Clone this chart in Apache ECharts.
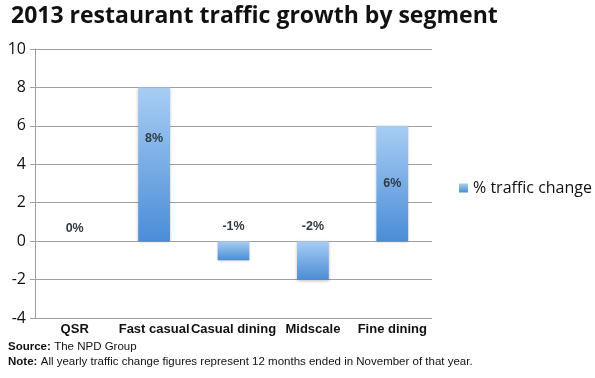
<!DOCTYPE html>
<html><head><meta charset="utf-8">
<script src="https://cdn.jsdelivr.net/npm/echarts@6/dist/echarts.min.js"></script>
<style>html,body{margin:0;padding:0;background:#fff}#c{width:595px;height:378px}</style>
</head><body><div id="c"></div>
<script>
const categories = ["QSR", "Fast casual", "Casual dining", "Midscale", "Fine dining"];
const trafficChange = [0, 8, -1, -2, 6];
const valueLabels = ["0%", "8%", "-1%", "-2%", "6%"];
const seriesName = "% traffic change";
const titleText = "2013 restaurant traffic growth by segment";
const yTicks = { min: -4, max: 10, interval: 2 };

const labelPlacement = [
  { position: 'top', distance: 6 },
  { position: 'insideTop', distance: 45 },
  { position: 'top', distance: 8 },
  { position: 'top', distance: 8 },
  { position: 'inside' }
];

const chart = echarts.init(document.getElementById('c'), null, { renderer: 'canvas' });
const grad = new echarts.graphic.LinearGradient(0, 0, 0, 1, [
  { offset: 0, color: '#a8cdf4' },
  { offset: 1, color: '#4a8dd7' }
]);
const footRich = {
  b: { fontFamily: 'Arial, Liberation Sans', fontWeight: 'bold', fontSize: 11.5, fill: '#111' },
  n: { fontFamily: 'Arial, Liberation Sans', fontSize: 11.5, fill: '#111' }
};
chart.setOption({
  animation: false,
  backgroundColor: '#fff',
  title: {
    text: titleText, left: 6, top: 0,
    textStyle: { fontFamily: 'Open Sans', fontWeight: 'bold', fontSize: 23, color: '#111' }
  },
  legend: {
    data: [seriesName], orient: 'vertical', left: 454, top: 175,
    itemWidth: 9, itemHeight: 9, itemGap: 4,
    icon: 'rect',
    textStyle: { fontFamily: 'Open Sans', fontSize: 16, color: '#111' }
  },
  grid: { left: 35, right: 163, top: 49, bottom: 60, containLabel: false },
  xAxis: {
    type: 'category', data: categories,
    axisLine: { onZero: false, show: false },
    axisTick: { show: false },
    axisLabel: { interval: 0, fontFamily: 'Arial, Liberation Sans', fontWeight: 'bold', fontSize: 13, color: '#111', margin: 5 }
  },
  yAxis: {
    type: 'value', min: yTicks.min, max: yTicks.max, interval: yTicks.interval,
    axisLine: { show: true, lineStyle: { color: '#a0a0a0', width: 1 } },
    axisTick: { show: true, length: 5, lineStyle: { color: '#a0a0a0' } },
    splitLine: { show: true, lineStyle: { color: '#a0a0a0', width: 1 } },
    axisLabel: { fontFamily: 'Open Sans', fontSize: 16, color: '#111', margin: 9 }
  },
  series: [{
    name: seriesName, type: 'bar', barWidth: '40%',
    itemStyle: { color: grad, shadowColor: 'rgba(0,0,0,0.25)', shadowBlur: 3, shadowOffsetY: 1 },
    data: trafficChange.map((v, i) => ({
      value: v,
      label: Object.assign({
        show: true, formatter: valueLabels[i],
        fontFamily: 'Arial, Liberation Sans', fontWeight: 'bold', fontSize: 12.5, color: '#2f3a45'
      }, labelPlacement[i])
    }))
  }],
  graphic: [
    { type: 'text', left: 8, top: 341, style: { rich: footRich, text: '{b|Source:} {n|The NPD Group}' } },
    { type: 'text', left: 8, top: 356, style: { rich: footRich, text: '{b|Note:} {n|All yearly traffic change figures represent 12 months ended in November of that year.}' } }
  ]
});
</script></body></html>
